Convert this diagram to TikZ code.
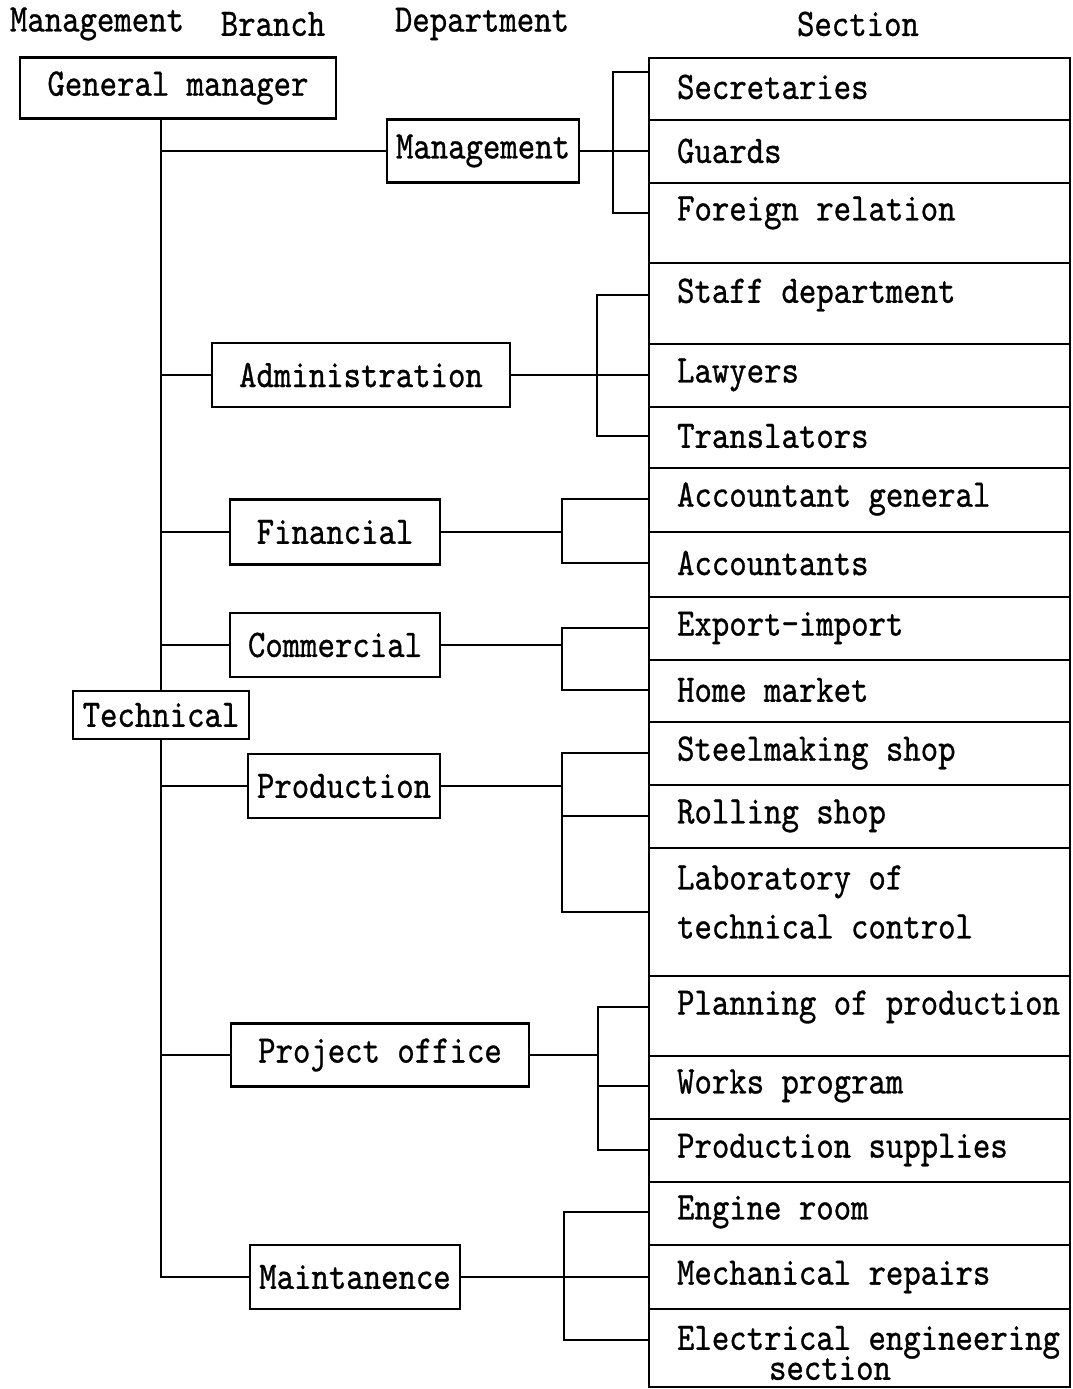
\documentclass[tikz,border=0pt]{standalone}
\usepackage{fontspec}
\usepackage{tikz}
\usetikzlibrary{positioning, calc}
\newfontfamily\twfam{lmmono10-regular.otf}[FakeStretch=0.85,FakeBold=0.8]
\newcommand\tw{\fontsize{39}{46}\selectfont\twfam}
\begin{document}
\begin{tikzpicture}[x=1pt, y=-1pt, line width=2.2pt]
        \tikzset{box/.style={draw, font=\tw, inner sep=0pt},
                 sec/.style={font=\tw, anchor=west, inner sep=0pt, align=left},
                 hd/.style={font=\tw, inner sep=0pt}}
        \useasboundingbox (0,0) rectangle (1073,1389);

        \node[hd] (h_mgmt) at (97,24) {Management};
        \node[hd] (h_branch) at (273,24) {Branch};
        \node[hd] (h_dep) at (482,24) {Department};
        \node[hd] (h_sec) at (858,24) {Section};

        \node[box, minimum width=316, minimum height=61] (gm) at (178,88) {General manager};
        \node[box, minimum width=176, minimum height=48, fill=white] (tech) at (161,715) {Technical};

        \node[box, minimum width=192, minimum height=63] (d_mgmt) at (483,151) {Management};
        \node[box, minimum width=298, minimum height=64] (d_adm) at (361,375) {Administration};
        \node[box, minimum width=210, minimum height=65] (d_fin) at (335,532) {Financial};
        \node[box, minimum width=210, minimum height=64] (d_com) at (335,645) {Commercial};
        \node[box, minimum width=192, minimum height=64] (d_prod) at (344,786) {Production};
        \node[box, minimum width=298, minimum height=63] (d_proj) at (380,1055) {Project office};
        \node[box, minimum width=210, minimum height=64] (d_maint) at (355,1277) {Maintanence};

        \coordinate (c_l) at (649,0);
        \coordinate (c_r) at (1070,0);
        \draw (c_l |- 0,58) rectangle (c_r |- 0,1387);
        \foreach \y in {120,183,263,344,407,468,532,597,660,722,785,848,976,1056,1119,1182,1245,1309}
            \draw (c_l |- 0,\y) -- (c_r |- 0,\y);

        \node[sec] (s_secr) at (676,87) {Secretaries};
        \node[sec] (s_guard) at (676,151) {Guards};
        \node[sec] (s_forg) at (676,213) {Foreign relation};
        \node[sec] (s_staff) at (676,295) {Staff department};
        \node[sec] (s_law) at (676,375) {Lawyers};
        \node[sec] (s_trans) at (676,436) {Translators};
        \node[sec] (s_accg) at (676,499) {Accountant general};
        \node[sec] (s_acc) at (676,563) {Accountants};
        \node[sec] (s_exp) at (676,628) {Export-import};
        \node[sec] (s_home) at (676,690) {Home market};
        \node[sec] (s_steel) at (676,753) {Steelmaking shop};
        \node[sec] (s_roll) at (676,816) {Rolling shop};
        \node[sec] (s_lab) at (676,902) {Laboratory of\\[3pt]technical control};
        \node[sec] (s_plan) at (676,1007) {Planning of production};
        \node[sec] (s_works) at (676,1086) {Works program};
        \node[sec] (s_supp) at (676,1150) {Production supplies};
        \node[sec] (s_eng) at (676,1212) {Engine room};
        \node[sec] (s_mech) at (676,1277) {Mechanical repairs};
        \node[sec] (s_elec) at (676,1353) {Electrical engineering\\[-16pt]\hspace*{92pt}section};

        \coordinate (k_secr) at ($(s_secr.west -| c_l)+(0,-15)$);
        \coordinate (k_lab) at ($(s_lab.west -| c_l)+(0,10)$);
        \coordinate (k_elec) at ($(s_elec.west -| c_l)+(0,-13)$);

        \draw (gm.south -| tech.north) -- (tech.north);
        \draw (tech.south) -- (tech.south |- d_maint.west) -- (d_maint.west);
        \foreach \d in {d_mgmt,d_adm,d_fin,d_com,d_prod,d_proj}
            \draw (tech.center |- \d.west) -- (\d.west);

        \draw (d_mgmt.east) -- (s_guard.west -| c_l);
        \draw (k_secr) -| (613,0 |- s_forg.west) -- (s_forg.west -| c_l);

        \draw (d_adm.east) -- (s_law.west -| c_l);
        \draw (s_staff.west -| c_l) -| (597,0 |- s_trans.west) -- (s_trans.west -| c_l);

        \draw (d_fin.east) -- (562,0 |- d_fin.east);
        \draw (s_accg.west -| c_l) -| (562,0 |- s_acc.west) -- (s_acc.west -| c_l);

        \draw (d_com.east) -- (562,0 |- d_com.east);
        \draw (s_exp.west -| c_l) -| (562,0 |- s_home.west) -- (s_home.west -| c_l);

        \draw (d_prod.east) -- (562,0 |- d_prod.east);
        \draw (s_steel.west -| c_l) -| (562,0 |- k_lab) -- (k_lab);
        \draw (562,0 |- s_roll.west) -- (s_roll.west -| c_l);

        \draw (d_proj.east) -- (598,0 |- d_proj.east);
        \draw (s_plan.west -| c_l) -| (598,0 |- s_supp.west) -- (s_supp.west -| c_l);
        \draw (598,0 |- s_works.west) -- (s_works.west -| c_l);

        \draw (d_maint.east) -- (s_mech.west -| c_l);
        \draw (s_eng.west -| c_l) -| (564,0 |- k_elec) -- (k_elec);
    \end{tikzpicture}
\end{document}
